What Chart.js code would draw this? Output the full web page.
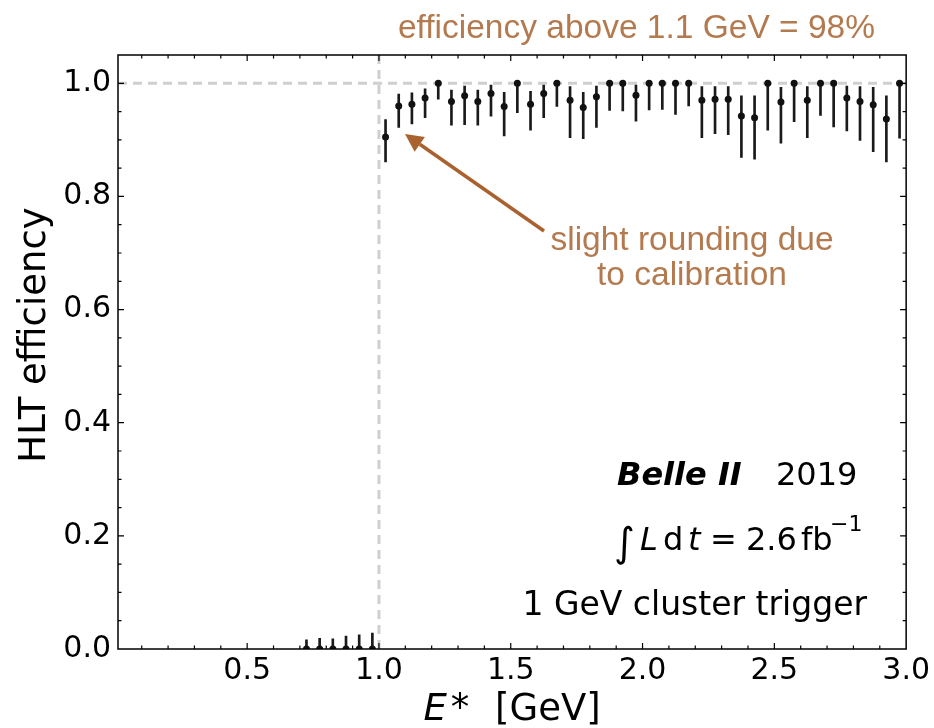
<!DOCTYPE html>
<html>
<head>
<meta charset="utf-8">
<script src="https://cdn.jsdelivr.net/npm/chart.js@4.4.1/dist/chart.umd.min.js"></script>
<style>
  html, body { margin: 0; padding: 0; background: #fff; }
  #wrap { width: 934px; height: 728px; }
</style>
</head>
<body>
<div id="wrap"><canvas id="chart"></canvas></div>
<script>
// bins below threshold (efficiency 0, only upper error)
const lowEnergy = [0.725, 0.775, 0.825, 0.875, 0.925, 0.975];
const lowEff = [0, 0, 0, 0, 0, 0];
const lowEffHi = [0.016, 0.019, 0.018, 0.023, 0.025, 0.028];

// bins above threshold
const energy = [1.025, 1.075, 1.125, 1.175, 1.225, 1.275, 1.325, 1.375, 1.425, 1.475,
                1.525, 1.575, 1.625, 1.675, 1.725, 1.775, 1.825, 1.875, 1.925, 1.975,
                2.025, 2.075, 2.125, 2.175, 2.225, 2.275, 2.325, 2.375, 2.425, 2.475,
                2.525, 2.575, 2.625, 2.675, 2.725, 2.775, 2.825, 2.875, 2.925, 2.975];
const eff = [0.905, 0.960, 0.963, 0.974, 1.000, 0.968, 0.978, 0.968, 0.982, 0.959,
             1.000, 0.963, 0.982, 1.000, 0.970, 0.957, 0.976, 1.000, 1.000, 0.979,
             1.000, 1.000, 1.000, 1.000, 0.970, 0.972, 0.972, 0.942, 0.939, 1.000,
             0.967, 1.000, 0.970, 1.000, 1.000, 0.974, 0.968, 0.962, 0.937, 1.000];
const effLo = [0.861, 0.922, 0.928, 0.939, 0.972, 0.926, 0.927, 0.926, 0.942, 0.907,
               0.948, 0.917, 0.939, 0.959, 0.904, 0.902, 0.922, 0.952, 0.951, 0.933,
               0.953, 0.954, 0.945, 0.960, 0.904, 0.911, 0.909, 0.869, 0.866, 0.917,
               0.894, 0.932, 0.904, 0.943, 0.923, 0.916, 0.899, 0.879, 0.861, 0.903];
const effHi = [0.936, 0.981, 0.983, 0.990, 1.000, 0.988, 0.995, 0.988, 0.997, 0.984,
               1.000, 0.986, 0.997, 1.000, 0.994, 0.984, 0.995, 1.000, 1.000, 0.997,
               1.000, 1.000, 1.000, 1.000, 0.994, 0.994, 0.994, 0.978, 0.978, 1.000,
               0.993, 1.000, 0.994, 1.000, 1.000, 0.995, 0.994, 0.993, 0.978, 1.000];

const xRange = [0.01, 3.0];
const yRange = [0, 1.05];
const xTicks = [0.5, 1.0, 1.5, 2.0, 2.5, 3.0];
const xTickLabels = ['0.5', '1.0', '1.5', '2.0', '2.5', '3.0'];
const yTicks = [0, 0.2, 0.4, 0.6, 0.8, 1.0];
const yTickLabels = ['0.0', '0.2', '0.4', '0.6', '0.8', '1.0'];
const thresholdE = 1.0;
const fullEff = 1.0;

const brown = '#b47a4f';
const arrowBrown = '#a9622f';

let points = [];
let bars = [];
for (let i = 0; i < lowEnergy.length; i++) {
    points.push({x: lowEnergy[i], y: lowEff[i]});
    bars.push({x: lowEnergy[i], y: [lowEff[i], lowEffHi[i]]});
}
for (let i = 0; i < energy.length; i++) {
    points.push({x: energy[i], y: eff[i]});
    bars.push({x: energy[i], y: [effLo[i], effHi[i]]});
}

// frame, inward ticks, annotations
const decorations = {
    id: 'decorations',
    afterDraw(chart) {
        const ctx = chart.ctx;
        const a = chart.chartArea;
        const xs = chart.scales.x, ys = chart.scales.y;
        ctx.save();
        ctx.strokeStyle = '#000';
        ctx.lineWidth = 1.2;
        ctx.beginPath();
        for (let k = 1; k <= 29; k++) {
            const v = k / 10;
            const px = xs.getPixelForValue(v);
            const len = (k % 5 === 0) ? 6 : 3.5;
            ctx.moveTo(px, a.bottom); ctx.lineTo(px, a.bottom - len);
            ctx.moveTo(px, a.top); ctx.lineTo(px, a.top + len);
        }
        for (let k = 1; k <= 20; k++) {
            const v = k / 20;
            const py = ys.getPixelForValue(v);
            const len = (k % 4 === 0) ? 6 : 3.5;
            ctx.moveTo(a.left, py); ctx.lineTo(a.left + len, py);
            ctx.moveTo(a.right, py); ctx.lineTo(a.right - len, py);
        }
        ctx.stroke();
        ctx.lineWidth = 1.5;
        ctx.strokeRect(a.left, a.top, a.right - a.left, a.bottom - a.top);

        // axis titles
        ctx.fillStyle = '#000';
        ctx.textBaseline = 'alphabetic';
        ctx.save();
        ctx.translate(45, 335);
        ctx.rotate(-Math.PI / 2);
        ctx.textAlign = 'center';
        ctx.font = '37px "DejaVu Sans"';
        ctx.fillText('HLT efficiency', 0, 0);
        ctx.restore();

        ctx.textAlign = 'left';
        ctx.font = 'italic 37px "DejaVu Sans"';
        const wE = ctx.measureText('E').width;
        ctx.font = '37px "DejaVu Sans"';
        const wStar = ctx.measureText('*').width;
        const wRest = ctx.measureText(' [GeV]').width;
        const total = wE + 4 + wStar + 14 + wRest;
        let tx = (a.left + a.right) / 2 - total / 2;
        ctx.font = 'italic 37px "DejaVu Sans"';
        ctx.fillText('E', tx, 720);
        tx += wE + 4;
        ctx.font = '37px "DejaVu Sans"';
        ctx.fillText('*', tx, 720);
        tx += wStar + 14;
        ctx.fillText(' [GeV]', tx, 720);

        // Belle II labels
        ctx.font = 'bold italic 32px "DejaVu Sans"';
        ctx.fillText('Belle II', 617, 485);
        ctx.font = '32px "DejaVu Sans"';
        ctx.fillText('2019', 776, 485);

        ctx.font = '40px "DejaVu Sans"';
        ctx.fillText('\u222B', 614, 556);
        ctx.font = 'italic 32px "DejaVu Sans"';
        ctx.fillText('L', 640, 550);
        ctx.font = '32px "DejaVu Sans"';
        ctx.fillText('d', 663, 550);
        ctx.font = 'italic 32px "DejaVu Sans"';
        ctx.fillText('t', 688, 550);
        ctx.font = '32px "DejaVu Sans"';
        ctx.fillText('=', 710, 550);
        ctx.fillText('2.6', 746, 550);
        ctx.fillText('fb', 801, 550);
        ctx.font = '22px "DejaVu Sans"';
        ctx.fillText('\u22121', 830, 531);

        ctx.font = '33px "DejaVu Sans"';
        ctx.textAlign = 'right';
        ctx.fillText('1 GeV cluster trigger', 867, 615);

        // brown annotations
        ctx.fillStyle = brown;
        ctx.font = '33.5px "Liberation Sans"';
        ctx.fillText('efficiency above 1.1 GeV = 98%', 875, 38);
        ctx.textAlign = 'center';
        ctx.fillText('slight rounding due', 692, 250);
        ctx.fillText('to calibration', 692, 285);

        // arrow
        const x0 = 544, y0 = 231, x1 = 405, y1 = 134;
        const ang = Math.atan2(y1 - y0, x1 - x0);
        const headLen = 18, headW = 9;
        const bx = x1 - headLen * Math.cos(ang), by = y1 - headLen * Math.sin(ang);
        ctx.strokeStyle = arrowBrown;
        ctx.fillStyle = arrowBrown;
        ctx.lineWidth = 3.5;
        ctx.beginPath();
        ctx.moveTo(x0, y0);
        ctx.lineTo(bx, by);
        ctx.stroke();
        ctx.beginPath();
        ctx.moveTo(x1, y1);
        ctx.lineTo(bx + headW * Math.sin(ang), by - headW * Math.cos(ang));
        ctx.lineTo(bx - headW * Math.sin(ang), by + headW * Math.cos(ang));
        ctx.closePath();
        ctx.fill();
        ctx.restore();
    }
};

let ctx = document.getElementById('chart').getContext('2d');
let chart = new Chart(ctx, {
    type: 'scatter',
    data: {
        datasets: [
            {
                type: 'line',
                data: [{x: xRange[0], y: fullEff}, {x: xRange[1], y: fullEff}],
                borderColor: '#cfcfcf',
                borderWidth: 3,
                borderDash: [9, 6],
                pointRadius: 0,
                clip: 0,
                order: 3
            },
            {
                type: 'line',
                data: [{x: thresholdE, y: yRange[0]}, {x: thresholdE, y: yRange[1]}],
                borderColor: '#cfcfcf',
                borderWidth: 3,
                borderDash: [9, 6],
                pointRadius: 0,
                clip: 0,
                order: 3
            },
            {
                type: 'bar',
                data: bars,
                backgroundColor: '#1a1a1a',
                barThickness: 2,
                grouped: false,
                borderWidth: 0,
                order: 2
            },
            {
                type: 'scatter',
                data: points,
                backgroundColor: '#111',
                borderColor: '#111',
                pointRadius: 3.5,
                pointBorderWidth: 0,
                clip: 0,
                order: 1
            }
        ]
    },
    options: {
        responsive: true,
        maintainAspectRatio: false,
        animation: false,
        devicePixelRatio: 1,
        layout: { padding: { left: 0, right: 27, top: 55, bottom: 0 } },
        plugins: { legend: { display: false }, tooltip: { enabled: false } },
        scales: {
            x: {
                type: 'linear',
                min: xRange[0],
                max: xRange[1],
                offset: false,
                grid: { display: false, drawTicks: false },
                border: { display: false },
                afterBuildTicks: (s) => { s.ticks = xTicks.map(v => ({value: v})); },
                afterFit: (s) => { s.height = 79; },
                ticks: {
                    autoSkip: false,
                    maxRotation: 0,
                    padding: 4,
                    color: '#000',
                    font: { family: 'DejaVu Sans', size: 30 },
                    callback: (v, i) => xTickLabels[i]
                }
            },
            y: {
                min: yRange[0],
                max: yRange[1],
                grid: { display: false, drawTicks: false },
                border: { display: false },
                afterBuildTicks: (s) => { s.ticks = yTicks.map(v => ({value: v})); },
                afterFit: (s) => { s.width = 118; },
                ticks: {
                    autoSkip: false,
                    padding: 7,
                    color: '#000',
                    font: { family: 'DejaVu Sans', size: 30 },
                    callback: (v, i) => yTickLabels[i]
                }
            }
        }
    },
    plugins: [decorations]
});
</script>
</body>
</html>
